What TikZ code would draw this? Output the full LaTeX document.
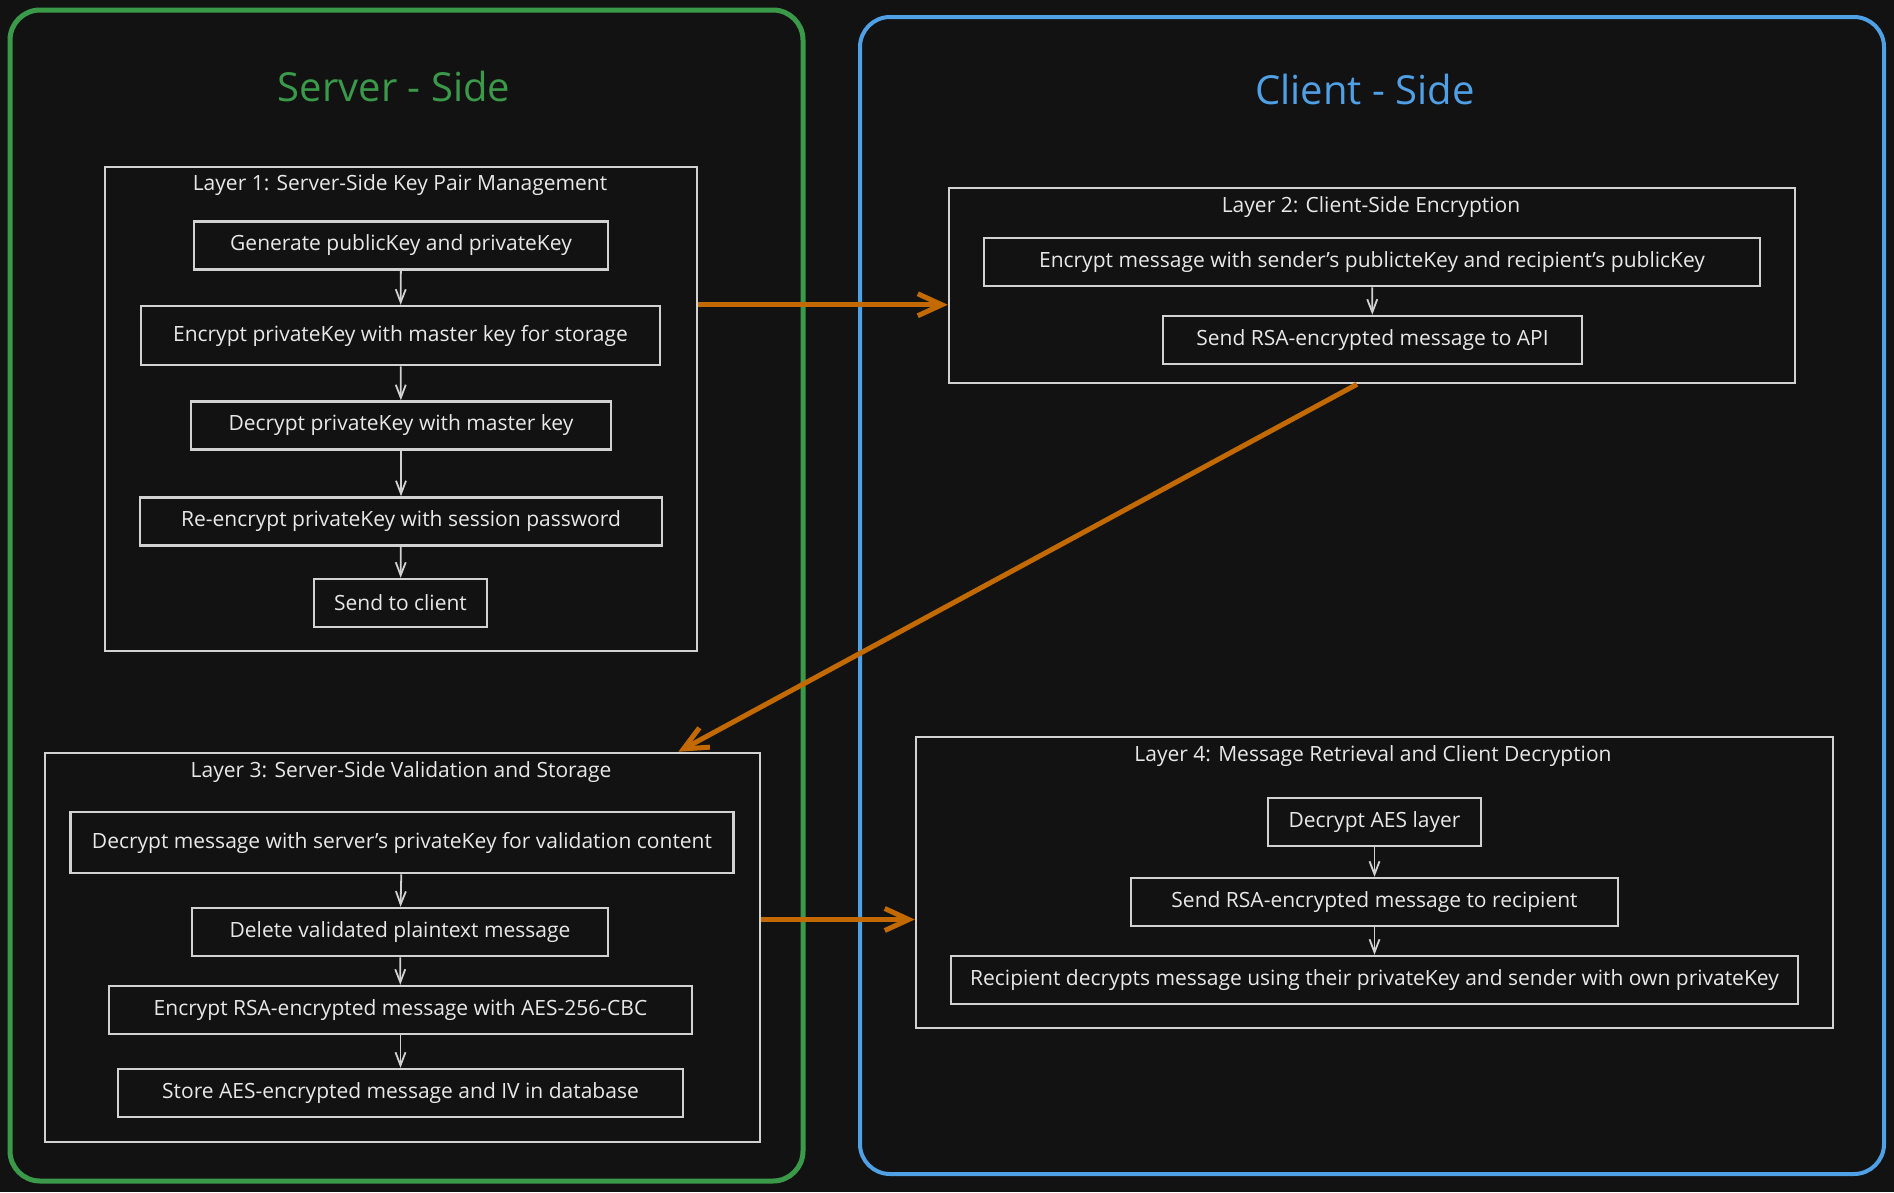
\documentclass[tikz,border=0pt]{standalone}
\usepackage{fontspec}
\setmainfont{Open Sans}
\usetikzlibrary{arrows.meta}
\definecolor{bgcol}{HTML}{121212}
\definecolor{srvgreen}{HTML}{3A9A4A}
\definecolor{cltblue}{HTML}{4FA0E4}
\definecolor{flow}{HTML}{C26A00}
\definecolor{ink}{HTML}{E8E8E8}
\definecolor{edge}{HTML}{D2D2D2}

\begin{document}
\begin{tikzpicture}[x=1pt,y=-1pt,
    layerbox/.style={draw=edge,line width=2.5pt,inner sep=0pt},
    taskbox/.style={draw=edge,line width=2.5pt,text=ink,inner sep=0pt,minimum height=48pt,font=\fontsize{21}{25}\selectfont},
    layertitle/.style={text=ink,inner sep=0pt,font=\fontsize{21}{25}\selectfont},
    sidetitle/.style={inner sep=0pt,font=\fontsize{40}{46}\selectfont},
    flowdown/.style={-{Straight Barb[length=13pt,width=10pt]},draw=edge,line width=1.8pt},
    handoff/.style={-{Straight Barb[length=24pt,width=22pt]},draw=flow,line width=5pt}]
                    \fill[bgcol] (0,0) rectangle (1894,1192);
                    \useasboundingbox (0,0) rectangle (1894,1192);

                    \draw[srvgreen,line width=5pt,rounded corners=30pt] (10,10) rectangle (803,1181);
                    \draw[cltblue,line width=4pt,rounded corners=30pt] (860,17) rectangle (1884,1174);
                    \node[sidetitle,text=srvgreen] (srvtitle) at (394,86) {Server - Side};
                    \node[sidetitle,text=cltblue] (clttitle) at (1365,89) {Client - Side};

                    % layer 1
                    \node[layerbox,minimum width=592pt,minimum height=484pt] (layer1) at (401,409) {};
                    \node[layertitle] (l1title) at (400,185) {Layer 1: Server-Side Key Pair Management};
                    \node[taskbox,minimum width=414pt] (genkeys) at (401,245.5) {Generate publicKey and privateKey};
                    \node[taskbox,minimum width=519pt,minimum height=59pt] (encstore) at (400.5,335.5) {Encrypt privateKey with master key for storage};
                    \node[taskbox,minimum width=420pt] (decmaster) at (401,425.5) {Decrypt privateKey with master key};
                    \node[taskbox,minimum width=522pt] (reenc) at (401,521.5) {Re-encrypt privateKey with session password};
                    \node[taskbox,minimum width=173pt] (sendclient) at (400.5,603) {Send to client};
                    \draw[flowdown] (genkeys) -- (encstore);
                    \draw[flowdown] (encstore) -- (decmaster);
                    \draw[flowdown] (decmaster) -- (reenc);
                    \draw[flowdown] (reenc) -- (sendclient);

                    % layer 2
                    \node[layerbox,minimum width=846pt,minimum height=195pt] (layer2) at (1372,285.5) {};
                    \node[layertitle] (l2title) at (1371,207) {Layer 2: Client-Side Encryption};
                    \node[taskbox,minimum width=776pt] (encmsg) at (1372,262) {Encrypt message with sender's publicteKey and recipient's publicKey};
                    \node[taskbox,minimum width=419pt] (sendapi) at (1372.5,340) {Send RSA-encrypted message to API};
                    \draw[flowdown] (encmsg) -- (sendapi);

                    % layer 3
                    \node[layerbox,minimum width=715pt,minimum height=389pt] (layer3) at (402.5,947.5) {};
                    \node[layertitle] (l3title) at (401,772) {Layer 3: Server-Side Validation and Storage};
                    \node[taskbox,minimum width=663pt,minimum height=61pt] (decval) at (402,842.5) {Decrypt message with server's privateKey for validation content};
                    \node[taskbox,minimum width=416pt] (delplain) at (400,932) {Delete validated plaintext message};
                    \node[taskbox,minimum width=583pt] (encaes) at (400.5,1010) {Encrypt RSA-encrypted message with AES-256-CBC};
                    \node[taskbox,minimum width=565pt] (storedb) at (400.5,1093) {Store AES-encrypted message and IV in database};
                    \draw[flowdown] (decval) -- (delplain);
                    \draw[flowdown] (delplain) -- (encaes);
                    \draw[flowdown] (encaes) -- (storedb);

                    % layer 4
                    \node[layerbox,minimum width=917pt,minimum height=291pt] (layer4) at (1374.5,882.5) {};
                    \node[layertitle] (l4title) at (1373,756) {Layer 4: Message Retrieval and Client Decryption};
                    \node[taskbox,minimum width=213pt] (decaes) at (1374.5,822) {Decrypt AES layer};
                    \node[taskbox,minimum width=487pt] (sendrec) at (1374.5,902) {Send RSA-encrypted message to recipient};
                    \node[taskbox,minimum width=847pt] (recdec) at (1374.5,980) {Recipient decrypts message using their privateKey and sender with own privateKey};
                    \draw[flowdown] (decaes) -- (sendrec);
                    \draw[flowdown] (sendrec) -- (recdec);

                    \draw[handoff] (layer1.east |- encstore.north) -- (layer2.west |- encstore.north);
                    \draw[handoff] ([xshift=-15pt]layer2.south) -- ([xshift=-83pt]layer3.north east);
                    \draw[handoff] ([yshift=28pt]layer3.east) -- ([yshift=28pt]layer3.east -| layer4.west);
                \end{tikzpicture}
\end{document}
